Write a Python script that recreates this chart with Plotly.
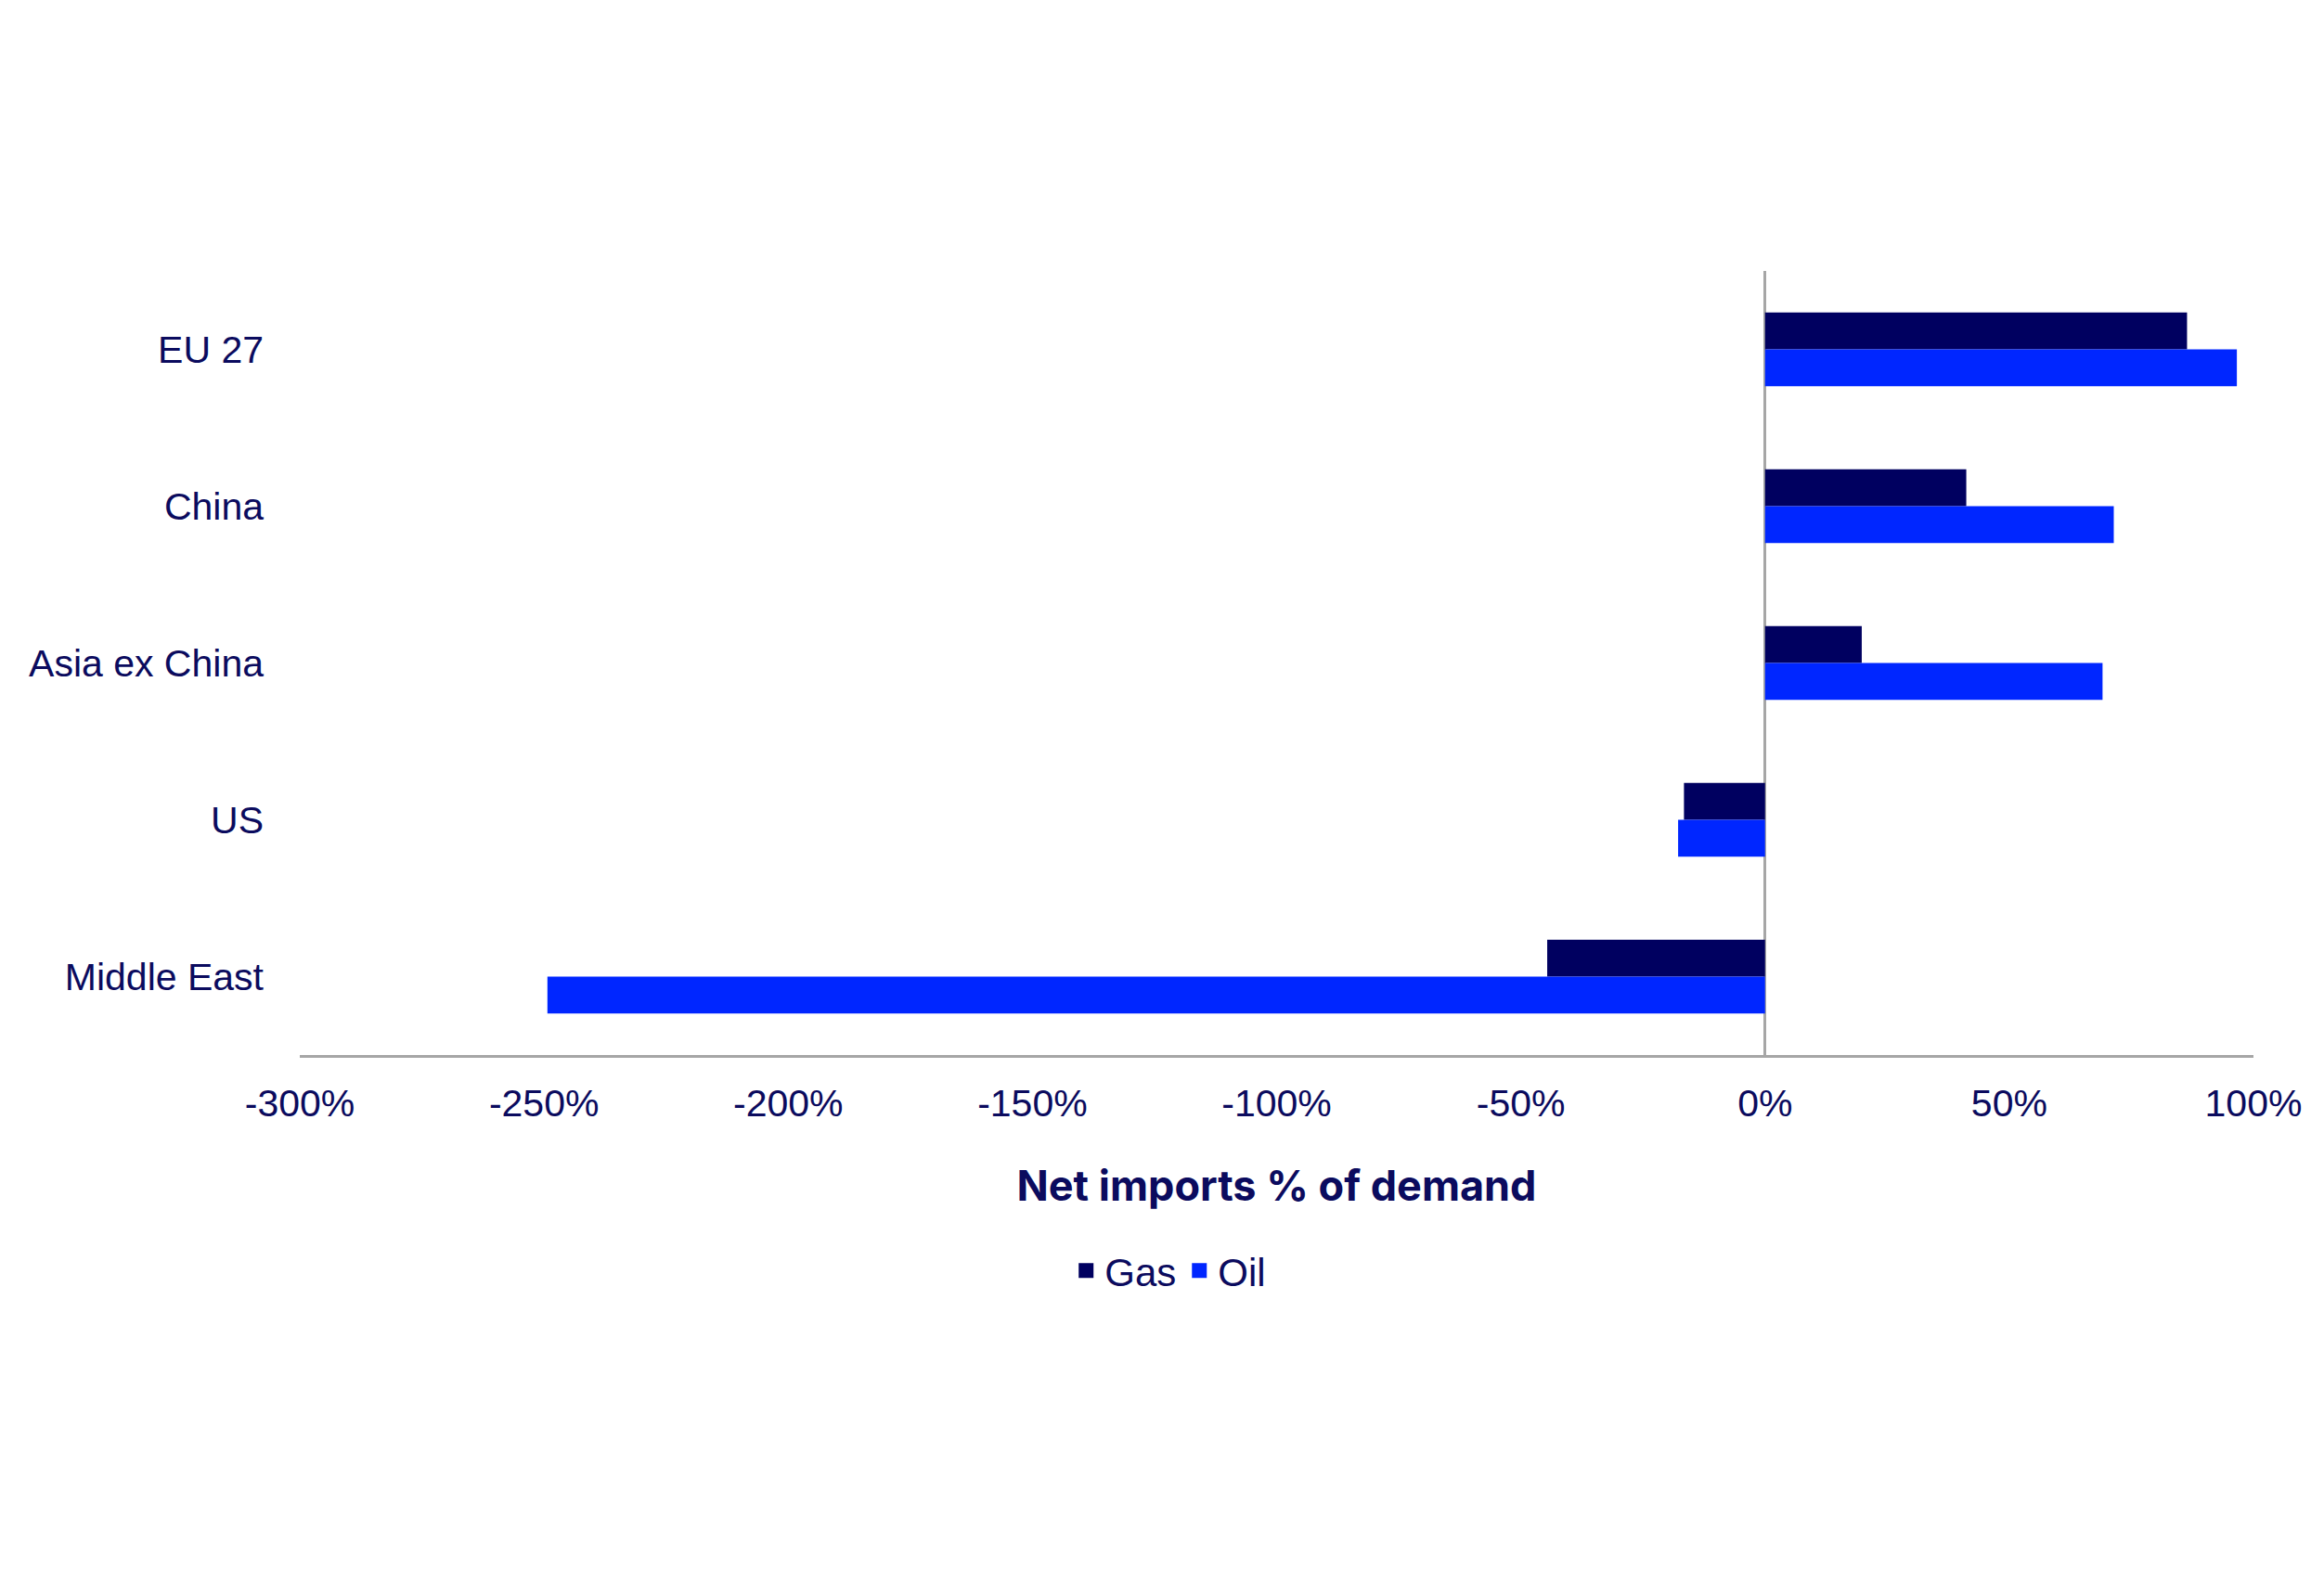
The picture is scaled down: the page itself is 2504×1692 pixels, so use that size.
import plotly.graph_objects as go

# Datos
regiones = ['EU 27', 'China', 'Asia ex China', 'US', 'Middle East']
gas = [86.4, 41.2, 19.8, -16.6, -44.6]
oil = [96.6, 71.4, 69.1, -17.8, -249.3]
ticks_x = [-300, -250, -200, -150, -100, -50, 0, 50, 100]
ticks_txt = ['-300%', '-250%', '-200%', '-150%', '-100%', '-50%', '0%', '50%', '100%']

navy_txt = '#0B0B5E'
col_gas = '#000060'
col_oil = '#0026FF'

fig = go.Figure()
fig.add_trace(go.Bar(y=regiones, x=gas, name='Gas', orientation='h', showlegend=False,
                     marker=dict(color=col_gas, line=dict(width=0))))
fig.add_trace(go.Bar(y=regiones, x=oil, name='Oil', orientation='h', showlegend=False,
                     marker=dict(color=col_oil, line=dict(width=0))))

# Leyenda con cuadrados más grandes
for nombre, col in [('Gas', col_gas), ('Oil', col_oil)]:
    fig.add_trace(go.Scatter(x=[None], y=[None], mode='markers', name=nombre,
                             marker=dict(symbol='square', size=19, color=col)))

fig.update_layout(
    width=2504, height=1692,
    paper_bgcolor='white', plot_bgcolor='white',
    margin=dict(l=315, r=84, t=284, b=563),
    barmode='group', bargap=0.53, bargroupgap=0,
    font=dict(family='Liberation Sans, Arial, sans-serif', size=41, color=navy_txt),
    showlegend=True,
    legend=dict(orientation='h', x=0.445, xanchor='center', y=-0.275, yanchor='middle',
                font=dict(size=42, color=navy_txt), itemwidth=30, tracegroupgap=0),
)

fig.update_xaxes(
    range=[-300, 100], tickvals=ticks_x, ticktext=ticks_txt,
    showgrid=False, zeroline=True, zerolinecolor='#A6A6A6', zerolinewidth=3,
    showline=True, linecolor='#A6A6A6', linewidth=3,
    ticks='', ticklabelstandoff=14,
    title=dict(text='<b>Net imports % of demand</b>',
               font=dict(family='Inter, Lato, sans-serif', size=45, color=navy_txt),
               standoff=52),
)
fig.update_yaxes(
    categoryorder='array', categoryarray=regiones, autorange='reversed',
    showgrid=False, zeroline=False, showline=False, ticks='',
    ticklabelstandoff=38,
)

fig.write_html('out.html')
